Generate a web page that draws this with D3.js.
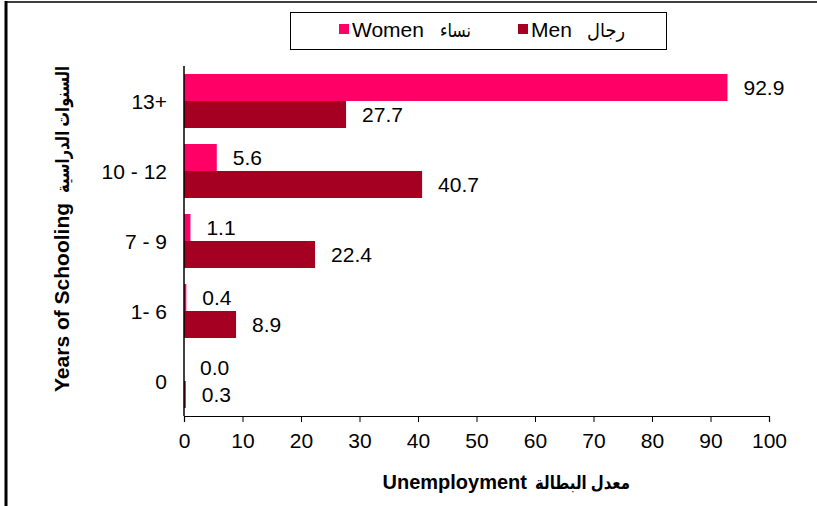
<!DOCTYPE html>
<meta charset="utf-8">
<style>
body { margin: 0; background: #fff; }
text { font-family: Arial, "Liberation Sans", "DejaVu Sans", sans-serif; fill: #000; }
</style>
<body>
<script src="https://d3js.org/d3.v7.min.js"></script>
<script>

// data
var categories = ["13+", "10 - 12", "7 - 9", "1- 6", "0"];
var women = [92.9, 5.6, 1.1, 0.4, 0.0];
var men = [27.7, 40.7, 22.4, 8.9, 0.3];
var xTicks = [0, 10, 20, 30, 40, 50, 60, 70, 80, 90, 100];

var W = 817, H = 506;
var plot = {left: 184, right: 769, top: 66, bottom: 416};
var fs = "21px";

var svg = d3.select("body").append("svg")
  .attr("width", W)
  .attr("height", H);

// outer frame (only the top and left edges are visible)
svg.append("line").attr("x1", 5).attr("x2", W).attr("y1", 2).attr("y2", 2)
  .attr("stroke", "#000").attr("stroke-width", 1.5);
svg.append("line").attr("x1", 6).attr("x2", 6).attr("y1", 1).attr("y2", H)
  .attr("stroke", "#000").attr("stroke-width", 3);

var x = d3.scaleLinear().domain([0, 100]).range([plot.left, plot.right]);
var y = d3.scaleBand().domain(categories).range([plot.top, plot.bottom]);
var inner = d3.scaleBand().domain(["women", "men"]).range([8, y.bandwidth() - 8]);

var colors = {women: "#ff0066", men: "#a50021"};

var rows = categories.map(function(c, i) {
  return {cat: c, women: women[i], men: men[i]};
});

var groups = svg.selectAll(".grp").data(rows).enter().append("g")
  .attr("class", "grp")
  .attr("transform", function(d) { return "translate(0," + y(d.cat) + ")"; });

["women", "men"].forEach(function(key) {
  groups.append("rect")
    .attr("x", x(0))
    .attr("y", inner(key))
    .attr("width", function(d) { return x(d[key]) - x(0); })
    .attr("height", inner.bandwidth())
    .attr("fill", colors[key]);

  groups.append("text")
    .attr("x", function(d) { return x(d[key]) + 16; })
    .attr("y", inner(key) + inner.bandwidth() / 2)
    .attr("dy", "0.36em")
    .style("font-size", fs)
    .text(function(d) { return d[key].toFixed(1); });
});

// y axis
svg.append("line")
  .attr("x1", plot.left).attr("x2", plot.left)
  .attr("y1", plot.top).attr("y2", plot.bottom)
  .attr("stroke", "#000").attr("stroke-width", 1.5);

svg.selectAll(".ylab").data(categories).enter().append("text")
  .attr("class", "ylab")
  .attr("x", 167)
  .attr("y", function(d) { return y(d) + y.bandwidth() / 2; })
  .attr("dy", "0.36em")
  .attr("text-anchor", "end")
  .style("font-size", fs)
  .text(function(d) { return d; });

// x axis
var xAxis = d3.axisBottom(x).tickValues(xTicks).tickSize(6).tickPadding(11);
var gx = svg.append("g")
  .attr("transform", "translate(0," + plot.bottom + ")")
  .call(xAxis);
gx.select(".domain").attr("stroke", "#000").attr("stroke-width", 1.2);
gx.selectAll(".tick line").attr("stroke", "#000");
gx.selectAll(".tick text").style("font-size", fs)
  .style("font-family", "Arial, 'Liberation Sans', sans-serif").attr("fill", "#000");

// x axis title
svg.append("text")
  .attr("x", 527).attr("y", 489)
  .attr("text-anchor", "end")
  .style("font-size", "20px").style("font-weight", "bold")
  .text("Unemployment");
svg.append("text")
  .attr("x", 535).attr("y", 489)
  .attr("textLength", 95).attr("lengthAdjust", "spacingAndGlyphs")
  .style("font-size", "18px").style("font-weight", "bold")
  .text("معدل البطالة");

// y axis title (rotated)
var yt = svg.append("g").attr("transform", "translate(69,392) rotate(-90)");
var yEn = yt.append("text")
  .attr("x", 0).attr("y", 0)
  .style("font-size", "21px").style("font-weight", "bold")
  .text("Years of Schooling");
var yEnW = yEn.node().getComputedTextLength();
yt.append("text")
  .attr("x", yEnW + 10).attr("y", 0)
  .attr("textLength", 127).attr("lengthAdjust", "spacingAndGlyphs")
  .style("font-size", "18px").style("font-weight", "bold")
  .text("السنوات الدراسية");

// legend
var lg = svg.append("g");
lg.append("rect")
  .attr("x", 290.5).attr("y", 12.5).attr("width", 376).attr("height", 37)
  .attr("fill", "#fff").attr("stroke", "#000").attr("stroke-width", 1);

var legendItems = [
  {key: "women", en: "Women", ar: "نساء", x: 339, arX: 440, arW: 31},
  {key: "men", en: "Men", ar: "رجال", x: 518, arX: 587, arW: 38}
];
legendItems.forEach(function(it) {
  lg.append("rect").attr("x", it.x).attr("y", 24).attr("width", 10).attr("height", 10)
    .attr("fill", colors[it.key]);
  lg.append("text").attr("x", it.x + 13).attr("y", 37)
    .style("font-size", fs).text(it.en);
  lg.append("text").attr("x", it.arX).attr("y", 37)
    .attr("textLength", it.arW).attr("lengthAdjust", "spacingAndGlyphs")
    .style("font-size", "19px").text(it.ar);
});

</script>
</body>
